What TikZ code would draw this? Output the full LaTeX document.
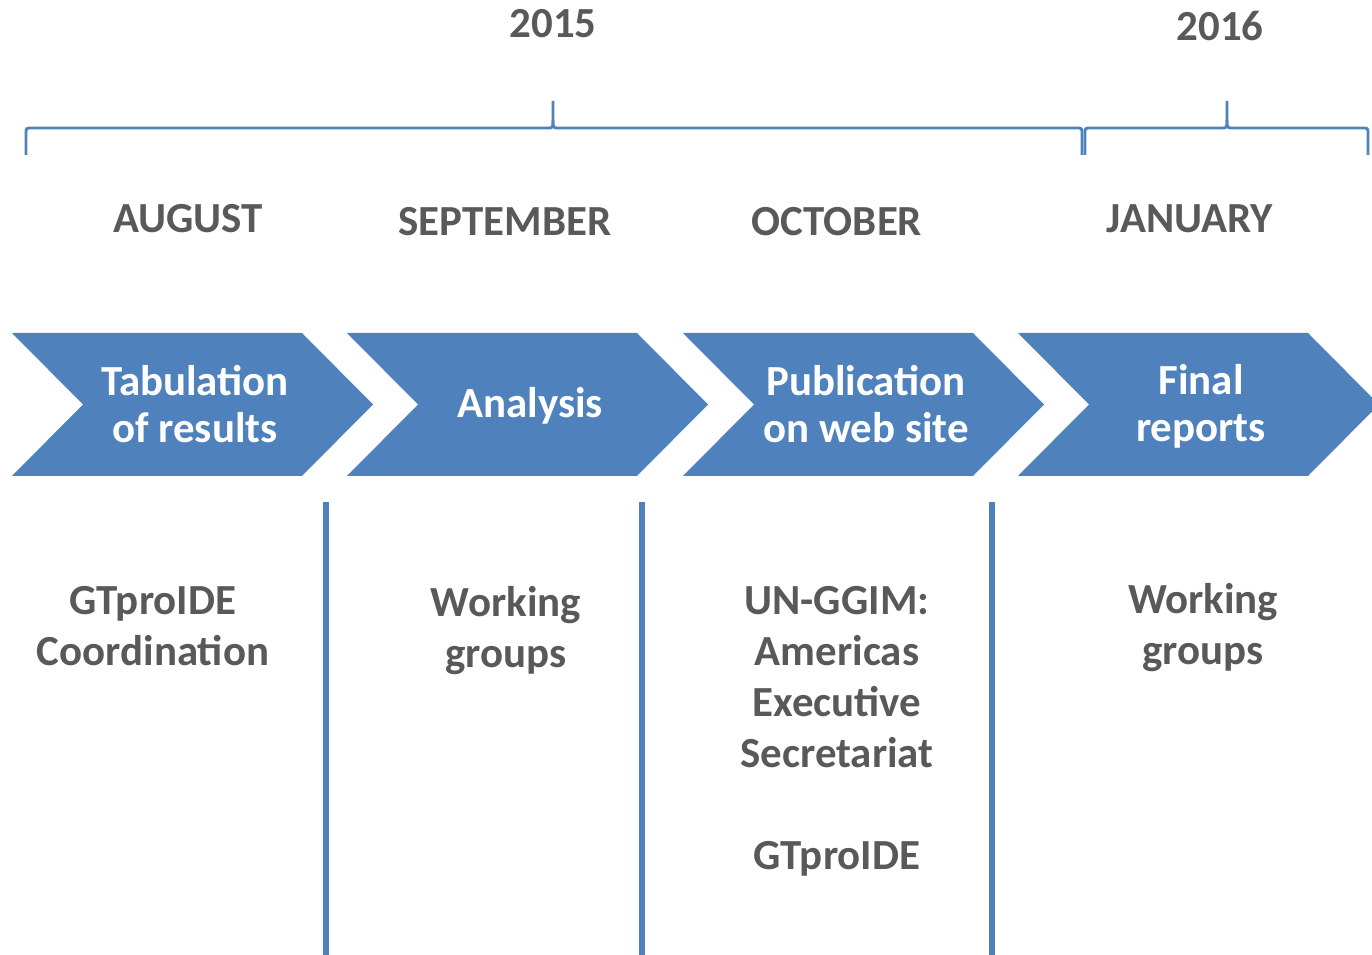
\documentclass[tikz,border=0pt]{standalone}
\usepackage{fontspec}
\setmainfont{Carlito}
\usetikzlibrary{positioning}
\definecolor{chevblue}{HTML}{4F81BD}
\definecolor{txtgray}{HTML}{595959}

\begin{document}
\begin{tikzpicture}[x=0.01cm,y=-0.01cm]
    \tikzset{
        lbl/.style={font=\bfseries\fontsize{12.2}{14.5}\selectfont, text=txtgray, align=center, inner sep=0pt},
        chevtxt/.style={font=\bfseries\fontsize{12.2}{13.4}\selectfont, text=white, align=center, inner sep=0pt},
        brace/.style={draw=chevblue, line width=0.8pt},
        sep/.style={draw=chevblue, line width=1.5pt},
    }
    \useasboundingbox (0,0) rectangle (1372,955);

    % years and braces
    \node[lbl] (y2015) at (553,24) {2015};
    \node[lbl] (y2016) at (1220,26) {2016};
    \draw[brace] (26,155) -- (26,134) .. controls (26,128) .. (32,128) -- (547,128) .. controls (553,128) .. (553,120) -- (553,101);
    \draw[brace] (553,120) .. controls (553,128) .. (559,128) -- (1076,128) .. controls (1082,128) .. (1082,134) -- (1082,155);
    \draw[brace] (1085,155) -- (1085,134) .. controls (1085,128) .. (1091,128) -- (1221,128) .. controls (1227,128) .. (1227,120) -- (1227,101);
    \draw[brace] (1227,120) .. controls (1227,128) .. (1233,128) -- (1362,128) .. controls (1368,128) .. (1368,134) -- (1368,155);

    % months
    \node[lbl] (aug) at (188,219) {AUGUST};
    \node[lbl] (sep) at (505,222) {SEPTEMBER};
    \node[lbl] (oct) at (837,222) {OCTOBER};
    \node[lbl] (jan) at (1190,219) {JANUARY};

    % chevrons
    \foreach \x/\n/\dy/\t in {12/tab/0/{Tabulation\\of results}, 347/ana/2/{Analysis}, 683/pub/0/{Publication\\on web site}, 1018/fin/2/{Final\\reports}} {
        \fill[chevblue] (\x,333) -- ++(290,0) -- ++(71,71.5) -- ++(-71,71.5) -- ++(-290,0) -- ++(71,-71.5) -- cycle;
        \node[chevtxt] (\n) at (\x+183,404+\dy) {\t};
    }

    % separators
    \foreach \x in {326,642,992}
        \draw[sep] (\x,502) -- (\x,955);

    % who
    \node[lbl] (coord) at (153,626) {GTproIDE\\Coordination};
    \node[lbl] (wg1) at (506,631) {Working\\groups};
    \node[lbl] (ungg) at (837,731) {UN-GGIM:\\Americas\\Executive\\Secretariat\\[14.5pt]GTproIDE};
    \node[lbl] (wg2) at (1203,628) {Working\\groups};
\end{tikzpicture}
\end{document}
